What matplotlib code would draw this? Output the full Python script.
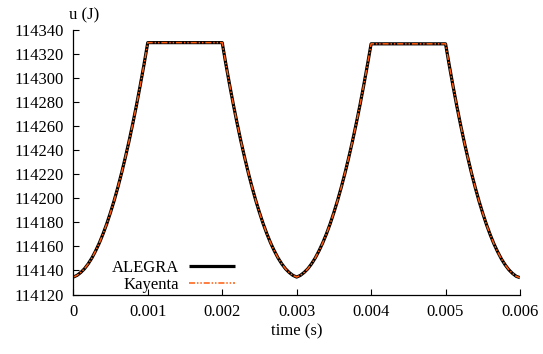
import matplotlib
matplotlib.use("Agg")
import matplotlib.pyplot as plt

# time in seconds (0.05 ms steps)
time_s = [i * 0.00005 for i in range(121)]

# ALEGRA internal energy u (J)
alegra_u = [
    # rise 0 -> 1 ms
    114134.5, 114135.9, 114138.3, 114141.4, 114145.5, 114150.4, 114156.3, 114162.9, 114170.5,
    114178.9, 114188.3, 114198.4, 114209.5, 114221.4, 114234.3, 114247.9, 114262.5, 114277.9,
    114294.3, 114311.4, 114329.5,
    # plateau 1.05 -> 1.95 ms
    114329.5, 114329.5, 114329.5, 114329.5, 114329.5, 114329.5, 114329.5, 114329.5, 114329.5,
    114329.5, 114329.5, 114329.5, 114329.5, 114329.5, 114329.5, 114329.5, 114329.5, 114329.5,
    114329.5,
    # fall 2 -> 3 ms
    114329.5, 114311.4, 114294.3, 114277.9, 114262.5, 114247.9, 114234.3, 114221.4, 114209.5,
    114198.4, 114188.3, 114178.9, 114170.5, 114162.9, 114156.3, 114150.4, 114145.5, 114141.4,
    114138.3, 114135.9, 114134.5,
    # rise 3.05 -> 4 ms
    114135.9, 114138.3, 114141.4, 114145.5, 114150.4, 114156.3, 114162.9, 114170.4,
    114178.8, 114188.2, 114198.3, 114209.3, 114221.2, 114234.0, 114247.6, 114262.1, 114277.4,
    114293.7, 114310.7, 114328.5,
    # plateau 4.05 -> 5 ms
    114328.5, 114328.5, 114328.5, 114328.5, 114328.5, 114328.5, 114328.5, 114328.5, 114328.5,
    114328.5, 114328.5, 114328.5, 114328.5, 114328.5, 114328.5, 114328.5, 114328.5, 114328.5,
    114328.5, 114328.5,
    # fall 5.05 -> 6 ms
    114310.6, 114293.5, 114277.1, 114261.7, 114247.1, 114233.5, 114220.6, 114208.7,
    114197.6, 114187.5, 114178.1, 114169.7, 114162.1, 114155.5, 114149.6, 114144.7, 114140.6,
    114137.5, 114135.1, 114134.0,
]
# Kayenta overlays ALEGRA
kayenta_u = list(alegra_u)

x_ticks = [0, 0.001, 0.002, 0.003, 0.004, 0.005, 0.006]
x_labels = ["0", "0.001", "0.002", "0.003", "0.004", "0.005", "0.006"]
y_ticks = list(range(114120, 114341, 20))

plt.rcParams["font.family"] = ["Liberation Serif", "DejaVu Serif"]
plt.rcParams["font.size"] = 12

fig = plt.figure(figsize=(5.43, 3.54), dpi=100)
ax = fig.add_axes([73.3 / 543, 1 - 294.5 / 354, (520 - 73.3) / 543, (294.5 - 30) / 354])

ax.plot(time_s, alegra_u, color="black", lw=2.3, label="ALEGRA", solid_capstyle="butt")
ax.plot(time_s, kayenta_u, color="#ff5a0a", lw=1.1, dashes=(4, 1.2, 1, 1.2, 1, 1.2), label="Kayenta")

ax.set_xlim(0, 0.006)
ax.set_ylim(114120, 114340)
ax.set_xticks(x_ticks)
ax.set_xticklabels(x_labels)
ax.set_yticks(y_ticks)

for s in ("top", "right"):
    ax.spines[s].set_visible(False)
for s in ("left", "bottom"):
    ax.spines[s].set_linewidth(0.9)
ax.tick_params(direction="in", length=4, width=0.8, top=False, right=False, pad=7)

ax.set_xlabel("time (s)", labelpad=2)
fig.text(84 / 543, 1 - 15 / 354, "u (J)", ha="center", va="center", fontsize=12)

leg = ax.legend(loc="lower right", bbox_to_anchor=((237 - 73.3) / 446.7, 0.0),
                frameon=False, markerfirst=False, handlelength=2.8, handletextpad=0.6,
                labelspacing=0.05, borderpad=0.1, borderaxespad=0.0)
for t in leg.get_texts():
    t.set_ha("right")

fig.savefig("out.png", dpi=100)
